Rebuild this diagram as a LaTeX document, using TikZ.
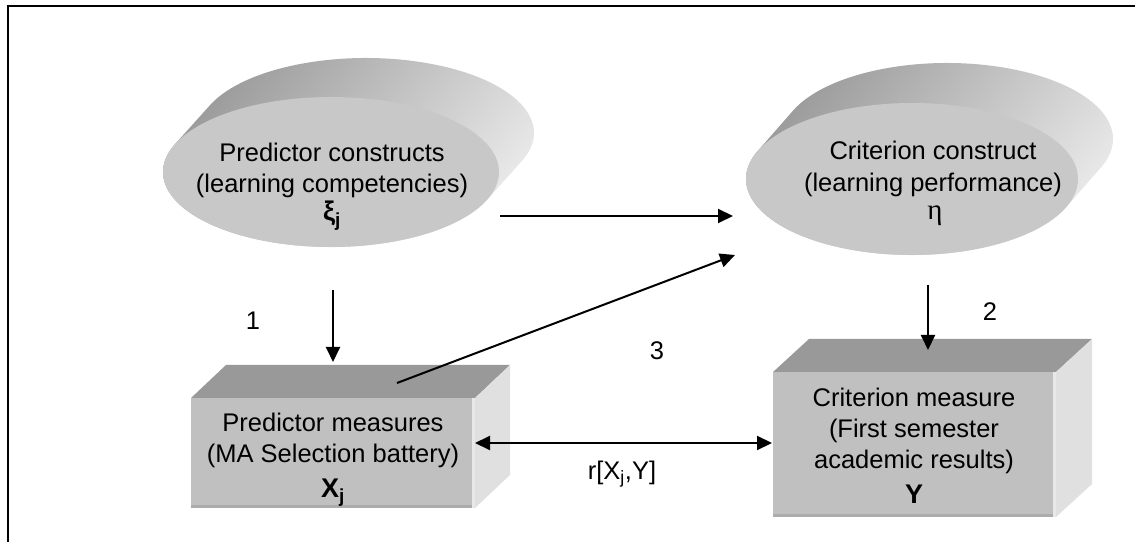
\documentclass[tikz,border=0pt]{standalone}
\usepackage{fontspec}
\setmainfont{Liberation Sans}
\newfontfamily\serifgreek{Liberation Serif}
\usetikzlibrary{arrows.meta,calc}

\definecolor{discFace}{RGB}{200,200,200}
\definecolor{discDark}{RGB}{150,150,150}
\definecolor{discLight}{RGB}{238,238,238}
\definecolor{boxFront}{RGB}{192,192,192}
\definecolor{boxTop}{RGB}{153,153,153}
\definecolor{boxSide}{RGB}{224,224,224}
\definecolor{boxRim}{RGB}{172,172,172}
\definecolor{boxGlint}{RGB}{232,232,232}

\tikzset{
  arr/.style={line width=2pt, -{Triangle[length=15pt,width=14pt]}},
  dblarr/.style={line width=2pt, {Triangle[length=15pt,width=14pt]}-{Triangle[length=15pt,width=14pt]}},
  txt/.style={anchor=base, inner sep=0pt, font=\fontsize{25.5}{29}\selectfont},
  sym/.style={anchor=base, inner sep=0pt, font=\fontsize{27}{29}\selectfont\bfseries},
}

% extruded elliptic disc: front centre, x radius, y radius, depth vector
\newcommand\extdisc[5]{%
  \path[top color=discDark, bottom color=discLight, shading angle=50]
    ([shift={#1}]158.2:#2 and #3) -- ++(#4,#5)
    arc[start angle=158.2, end angle=-21.8, x radius=#2, y radius=#3]
    -- ++(-#4,-#5)
    arc[start angle=-21.8, end angle=-201.8, x radius=#2, y radius=#3] -- cycle;
  \fill[discFace] #1 ellipse[x radius=#2, y radius=#3];
}

% box: front lower-left, front upper-right, depth vector
\newcommand\solidbox[6]{%
  \fill[boxTop] (#1,#4) -- ++(#5,#6) -- (#3+#5,#4+#6) -- (#3,#4) -- cycle;
  \fill[boxSide] (#3,#2) -- (#3,#4) -- ++(#5,#6) -- (#3+#5,#2+#6) -- cycle;
  \fill[boxFront] (#1,#2) rectangle (#3,#4);
  \fill[boxRim] (#1,#2) rectangle (#3,#2+3);
  \fill[boxGlint] (#3-3,#2) rectangle (#3,#4);
}

\begin{document}
\begin{tikzpicture}[x=1pt,y=1pt]
\useasboundingbox (0,0) rectangle (1135,541);

% frame
\draw[line width=2.2pt] (8,-10) -- (8,535) -- (1150,535);

% construct discs
\extdisc{(331,369)}{168}{75}{35}{39}
\extdisc{(912,362)}{166}{76}{35}{40}

% measure boxes
\solidbox{191}{33}{475}{143}{35}{33}
\solidbox{773}{24}{1056}{169}{36}{33}

% disc texts
\node[txt] (xi1) at (332,379) {Predictor constructs};
\node[txt] (xi2) at (332,348) {(learning competencies)};
\node[sym] (xi)  at (332,320) {ξ\textsubscript{j}};

\node[txt] (eta1) at (933,381) {Criterion construct};
\node[txt] (eta2) at (933,349) {(learning performance)};
\node[txt] (eta)  at (935,321) {\fontsize{29}{29}\selectfont\serifgreek η};

% box texts
\node[txt] (x1) at (333,109) {Predictor measures};
\node[txt] (x2) at (333,78)  {(MA Selection battery)};
\node[sym] (xj) at (333,44)  {X\textsubscript{j}};

\node[txt] (y1) at (914,134) {Criterion measure};
\node[txt] (y2) at (914,103) {(First semester};
\node[txt] (y3) at (914,73)  {academic results)};
\node[sym] (yy) at (914,38)  {Y};

% connector end points
\coordinate (xiR)   at (500,325);
\coordinate (etaL)  at (733,325);
\coordinate (xiB)   at (333,251);
\coordinate (xT)    at (333,179);
\coordinate (etaB)  at (928,256);
\coordinate (yT)    at (928,191);
\coordinate (xTop)  at (397,158);
\coordinate (etaBL) at (735,286);
\coordinate (xR)    at (475,98);
\coordinate (yL)    at (772,98);

\draw[arr] (xiR) -- (etaL);
\draw[arr] (xiB) -- (xT);
\draw[arr] (etaB) -- (yT);
\draw[arr] (xTop) -- (etaBL);
\draw[dblarr] (xR) -- (yL);

% path labels
\node[txt] (l1) at (253,211) {1};
\node[txt] (l2) at (990,220) {2};
\node[txt] (l3) at (657,181) {3};
\node[txt] (r)  at (622,62)  {r[X\textsubscript{j},Y]};
\end{tikzpicture}
\end{document}
